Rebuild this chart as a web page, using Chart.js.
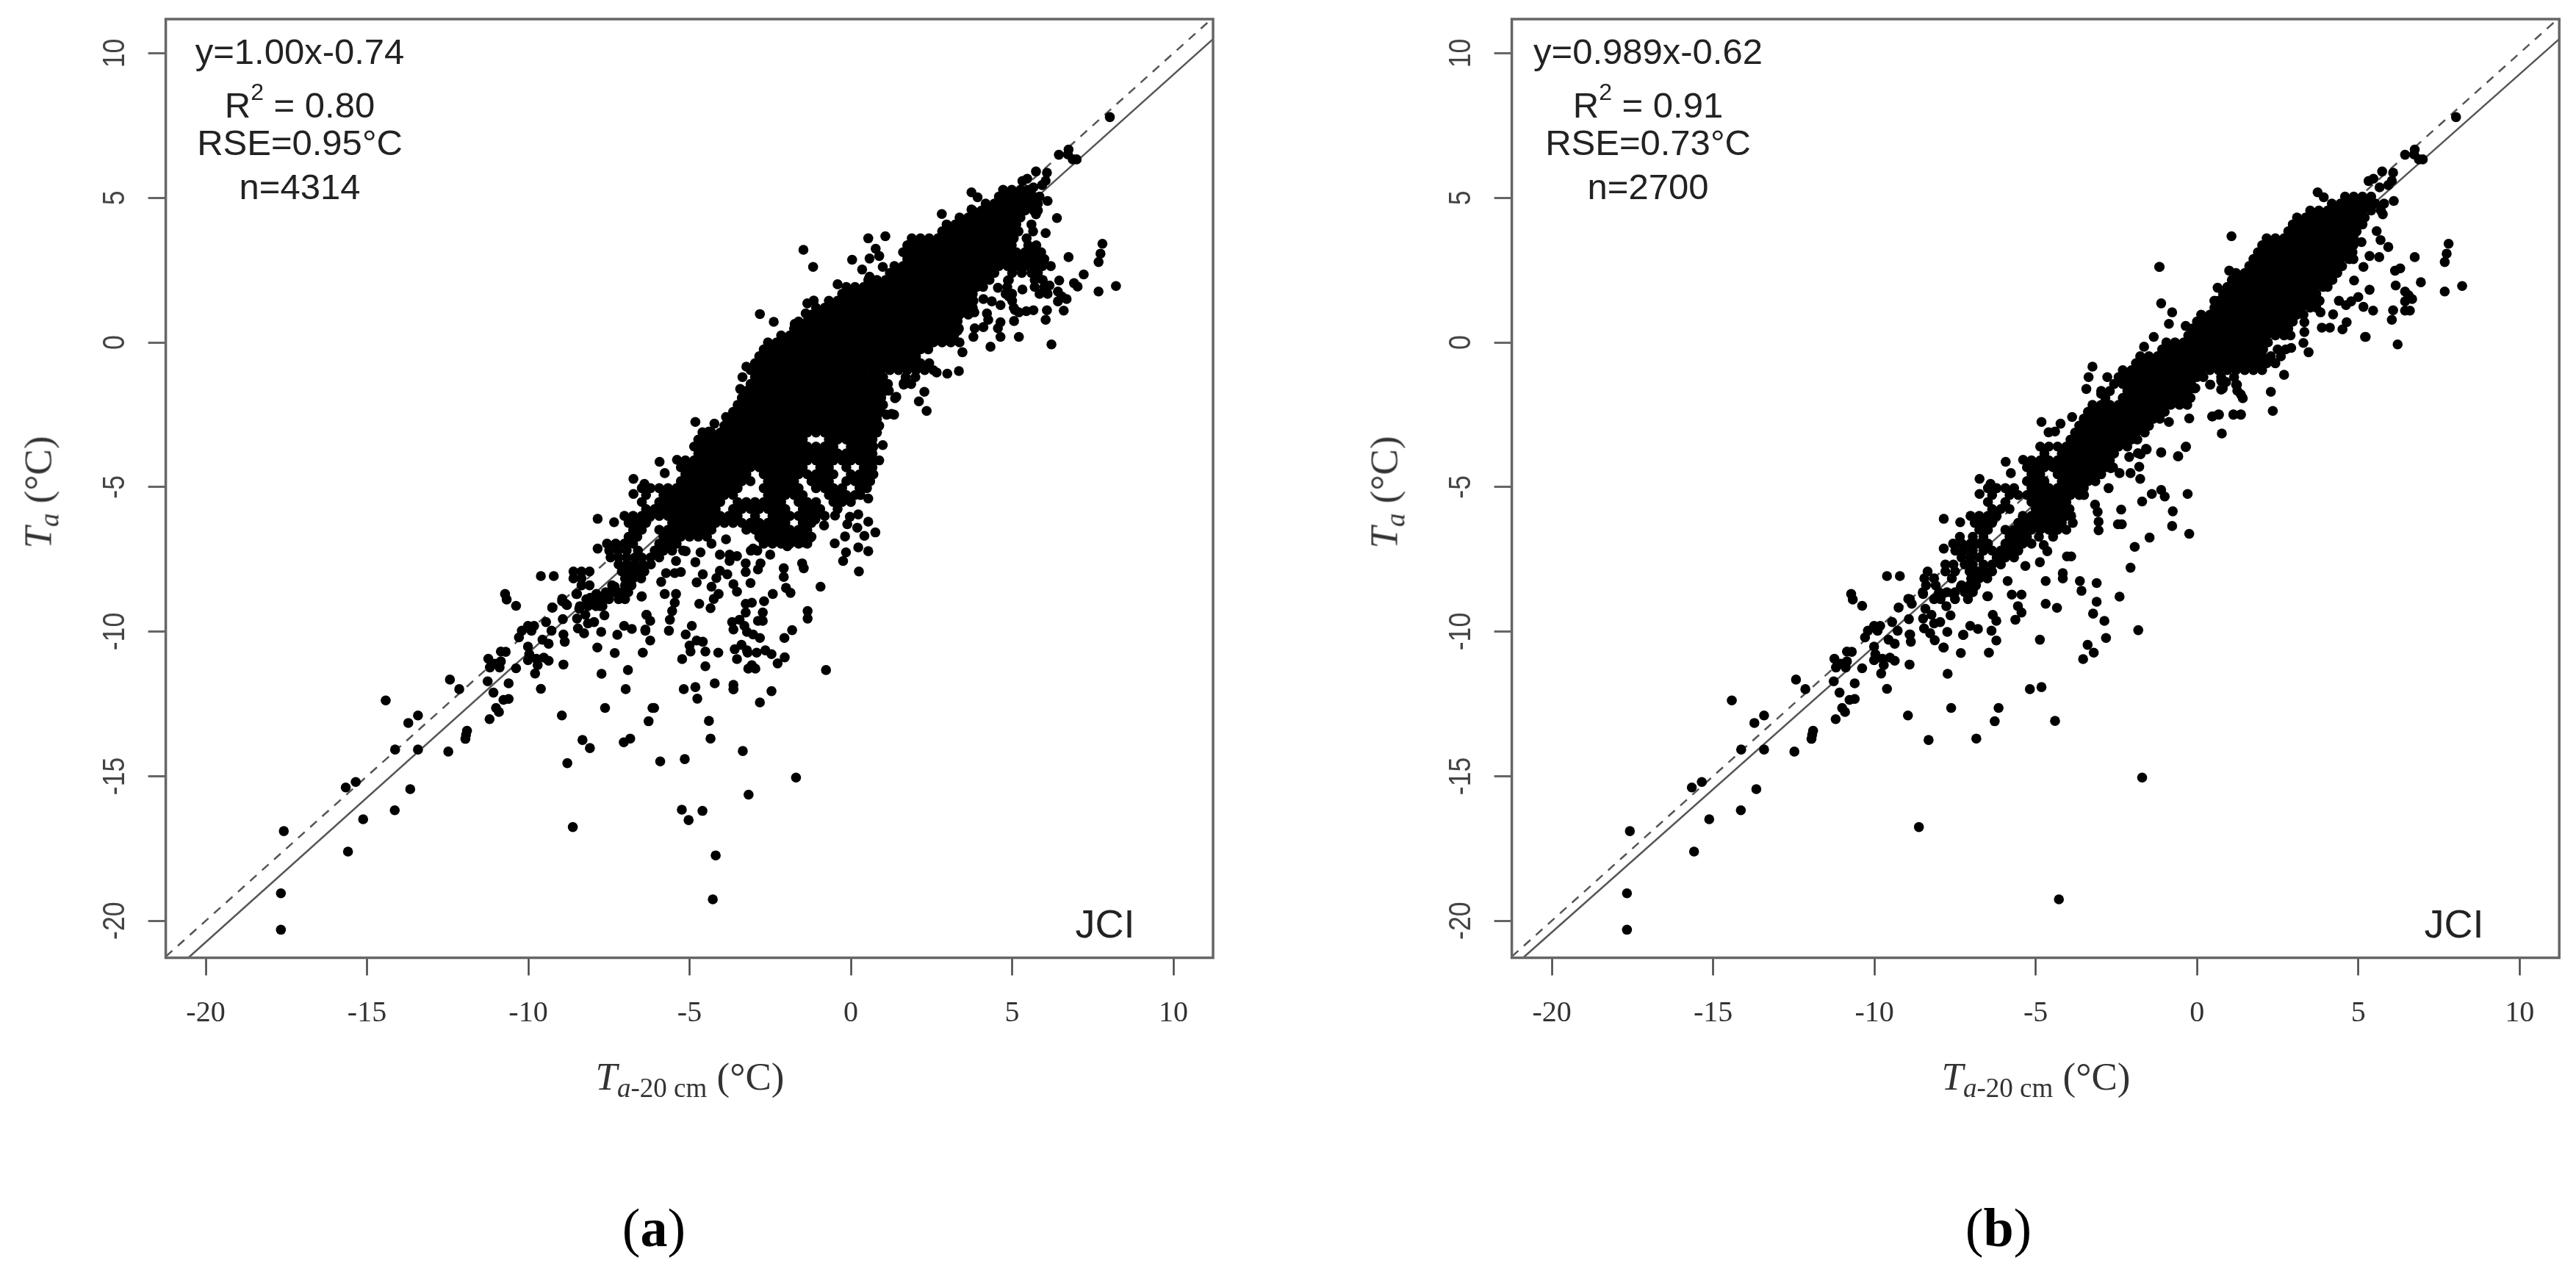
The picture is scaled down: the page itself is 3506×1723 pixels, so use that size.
<!DOCTYPE html>
<html>
<head>
<meta charset="utf-8">
<title>Ta vs Ta-20 cm</title>
<script src="https://cdn.jsdelivr.net/npm/chart.js@4/dist/chart.umd.min.js"></script>
<style>
    html, body { margin: 0; padding: 0; background: #fff; }
    body { position: relative; width: 3506px; height: 1723px; overflow: hidden; }
    canvas { position: absolute; top: 0; }
    .nota { position: absolute; transform: translateX(-50%); white-space: nowrap; font: 49px/49px "Liberation Sans", Arial, sans-serif; color: #222; }
    .nota sup { font-size: 32px; line-height: 0; vertical-align: 24px; }
    .jci { font-size: 54px; line-height: 54px; }
    .titulo { position: absolute; white-space: nowrap; font: 53px/53px "Liberation Serif", serif; color: #333; }
    .titulo sub { font-size: 37px; line-height: 0; vertical-align: -10px; }
    .painel { position: absolute; transform: translateX(-50%); font: 74px/74px "Liberation Serif", serif; color: #000; }
</style>
</head>
<body>
<canvas id="chartA" width="1790" height="1500" style="left:0"></canvas>
<canvas id="chartB" width="1674" height="1500" style="left:1832.4px"></canvas>

<div class="nota" style="left:408px;top:46px">y=1.00x-0.74</div>
<div class="nota" style="left:408px;top:119px">R<sup>2</sup> = 0.80</div>
<div class="nota" style="left:408px;top:170px">RSE=0.95°C</div>
<div class="nota" style="left:408px;top:230px">n=4314</div>
<div class="nota jci" style="left:1504px;top:1230px">JCI</div>
<div class="nota" style="left:2243px;top:46px">y=0.989x-0.62</div>
<div class="nota" style="left:2243px;top:119px">R<sup>2</sup> = 0.91</div>
<div class="nota" style="left:2243px;top:170px">RSE=0.73°C</div>
<div class="nota" style="left:2243px;top:230px">n=2700</div>
<div class="nota jci" style="left:3340px;top:1230px">JCI</div>

<div class="titulo" style="left:939px;top:1439px;transform:translateX(-50%)"><i>T</i><sub><i>a</i>-20 cm</sub> (°C)</div>
<div class="titulo" style="left:2771px;top:1439px;transform:translateX(-50%)"><i>T</i><sub><i>a</i>-20 cm</sub> (°C)</div>
<div class="titulo" style="left:52px;top:670px;transform:translate(-50%,-50%) rotate(-90deg)"><i>T</i><sub><i>a</i></sub> (°C)</div>
<div class="titulo" style="left:1884px;top:670px;transform:translate(-50%,-50%) rotate(-90deg)"><i>T</i><sub><i>a</i></sub> (°C)</div>

<div class="painel" style="left:890px;top:1634px">(<b>a</b>)</div>
<div class="painel" style="left:2720px;top:1634px">(<b>b</b>)</div>

<script>
const tickValues = [-20, -15, -10, -5, 0, 5, 10];
const xRange = [-21.24, 11.23];
const yRange = [-21.28, 11.18];

const lineOneToOne = [[-21.24, -21.24], [11.18, 11.18]];
const lineFitA = [[-20.54, -21.28], [11.23, 10.49]];
const lineFitB = [[-20.89, -21.28], [11.23, 10.49]];

// pontos isolados que aparecem nos dois paineis
const pointsBoth = [
    [-17.67,-20.31],[-17.67,-19.05],[-17.58,-16.9],[-15.59,-17.61],[-15.12,-16.49],[-15.66,-15.39],[-15.35,-15.2],
    [-14.14,-16.18],[-13.66,-15.45],[-14.42,-12.38],[-14.13,-14.08],[-13.42,-14.08],[-13.72,-13.16],[-13.42,-12.9],
    [-12.48,-14.15],[-11.9,-13.43],[-11.93,-13.57],[-11.95,-13.71],[-12.43,-11.66],[-12.14,-11.99],[-11.2,-13.03],
    [-11.26,-11.72],[-11.08,-12.11],[-10.61,-11.79],[-10.61,-12.33],[-10.77,-12.36],[-11,-12.64],[-10.91,-12.78],
    [-11.24,-10.94],[-10.85,-10.69],[-10.7,-10.7],[-11.19,-11.24],[-10.89,-11.24],[-10.85,-11.03],[-11.04,-11.11],
    [-10.38,-11.27],[-9.61,-11.98],[-9.79,-11.45],[-10.01,-10.52],[-9.97,-10.78],[-10.01,-10.99],[-9.75,-10.94],
    [-9.52,-10.9],[-9.37,-11.01],[-9.71,-11.16],[-8.91,-11.14],[-8.96,-12.9],[-8.62,-16.76],[-8.32,-13.75],
    [-7.73,-11.46],[-7.62,-12.64],[-6.84,-13.7],[-6.27,-13.1],[-6.15,-12.64],[-4.4,-13.09],[-5.18,-11.99],[-4.82,-11.92],
    [-3.53,-10.95],[-3.2,-10.73],[-3.39,-10.46],[-2.82,-10.22],[-1.82,-9.95],[-1.7,-15.05],[-4.28,-19.26],
    [-10.29,-10.2],[-10.2,-9.97],[-10.01,-9.8],[-9.82,-9.8],[-9.9,-9.97],[-9.56,-10.28],[-9.37,-10.42],[-9.45,-9.67],
    [-9.28,-9.97],[-9.25,-9.17],[-8.93,-9.57],[-8.91,-10.1],[-8.87,-10.35],[-8.95,-8.87],[-8.84,-9.04],[-8.49,-8.7],
    [-8.42,-9.21],[-8.49,-9.55],[-8.23,-9.42],[-8.46,-9.89],[-8.27,-10.06],[-7.96,-9.67],[-8.15,-9.72],[-7.77,-9.12],
    [-7.64,-9.44],[-8.08,-8.83],[-7.89,-8.7],[-7.55,-8.7],[-7.32,-8.45],[-7.09,-8.7],[-6.94,-8.53],[-6.48,-8.78],
    [-7.74,-10.01],[-7.24,-10.11],[-7.03,-9.8],[-6.79,-9.91],[-7.86,-10.55],[-7.32,-10.74],[-6.33,-9.42],[-6.22,-9.63],
    [-6.37,-9.97],[-6.22,-10.31],[-6.45,-10.73],[-10.72,-8.7],[-10.67,-8.89],[-10.38,-9.11],[-9.61,-8.08],[-9.21,-8.08],
    [-3.24,-0.84],[-3.36,-1.2],[-3.43,-1.61],[-3.87,-2.58],[-4.23,-2.81],[-4.82,-2.75],[-4.6,-3.11],[-4.4,-3.08],
    [-5.39,-4.06],[-5.93,-4.13],[-5.77,-4.52],[-6.74,-4.72],[-6.74,-5.24],[-6.4,-4.89],[-7.85,-6.1],[-7.34,-6.22],[-7.85,-7.13],
    [8.03,7.79],[6.75,6.67],[6.45,6.49],[6.88,6.33],[6.73,6.5],[7.0,6.33],[7.8,3.41],[7.74,3.07],[7.68,2.78],[6.75,2.95],
    [8.22,1.95],[6.1,4.89],[6.22,-0.07],[1.07,3.67],[-1.17,2.61],[3.74,5.19],[3.93,5.02],[5.74,5.91],[6.08,5.87],
    [5.47,5.66],[6.04,5.59],[5.93,5.44],[5.66,5.36],[5.32,5.58],[5.21,0.19],[6.6,1.1],[6.08,1.11],[6.04,0.78],[7.68,1.76]
];

// ---- painel a ----
const pointsOnlyA = [
    [-3.17,-15.64],[-3.35,-14.13],[-4.35,-13.7],[-5.15,-14.41],[-5.24,-16.16],[-5.03,-16.52],[-4.6,-16.2],[-4.19,-17.74],[-0.77,-11.33],
    [-8.79,-14.55],[-8.09,-14.03],[-6.91,-11.33],[-6.98,-11.99],[-6.1,-12.64],[-7.04,-13.83],[-5.91,-14.49],[-4.22,-11.79],
    [-3.64,-11.84],[-3.64,-12],[-4.76,-12.32],[-4.51,-11.2],[-3.07,-11.16],[-3.18,-11.28],[-2.96,-11.28],[-5.23,-10.95],
    [-4.11,-10.73],[-4.51,-10.69],[-4.97,-10.69],[-3.6,-10.61],[-3.22,-10.65],[-2.92,-10.73],[-2.65,-10.65],[-2.46,-10.78],
    [-2.27,-11.1],[-2.05,-10.89],[-4.78,-10.31],[-4.59,-10.35],[-5.12,-10.1],[-4.93,-9.8],[-5,-10.48],[-2.06,-10.22],
    [-2.46,-12.06],[-2.82,-12.45],[-3.03,-10.1],[-3.22,-10.01],[-3.3,-9.8],[-3.68,-9.67],[-3.64,-9.93],[-3.45,-9.59],
    [-3.26,-9.34],[-3.26,-9.04],[-3.07,-9],[-2.69,-8.95],[-2.73,-9.34],[-2.73,-9.63],[-2.88,-9.63],[-1.34,-9.29],[-1.34,-9.55],
    [-2.42,-8.7],[-2.01,-8.49],[-1.87,-8.66],[-0.94,-8.45],[0.25,-7.92],[-2.08,-7.81],[-2.08,-8.11],[-1.51,-7.64],[-1.46,-7.81],
    [-2.5,-7.34],[-2.8,-7.64],[-2.88,-7.85],[-3.26,-7.64],[-3.26,-7.94],[-3.11,-8.32],[-3.53,-8.62],[-3.64,-8.36],[-3.83,-8.02],
    [-4.06,-7.9],[-4.17,-8.15],[-4.32,-8.45],[-4.1,-8.7],[-4.25,-8.87],[-4.35,-9.19],[-4.7,-9.04],[-4.59,-8.02],[-4.78,-8.3],
    [-5.88,-8.28],[-5.73,-7.98],[-5.42,-7.56],[-5.27,-7.94],[-5.46,-7.98],[-6.49,-8.79],[-5.77,-8.7],[-5.42,-8.7],[-5.46,-9],
    [-5.54,-9.29],[-5.61,-9.59],[-5.64,-9.97],[-6.34,-9.42],[-6.37,-9.93],[-3.87,-6.81],[-4.06,-7.34],[-3.76,-7.34],[-3.53,-7.39],
    [-3.76,-7.56],[-4.66,-7.26],[-4.82,-7.6],[-5.12,-7.22],[0.54,-5.4],[0.54,-6.2],[0.76,-6.57],[0.42,-6.69],[0.2,-6.41],[0.23,-5.95],
    [-0.03,-6.03],[-0.11,-6.29],[-0.18,-6.71],[-0.5,-6.95],[0.23,-7.09],[0.54,-7.22],[-0.15,-7.26],[-0.24,-7.56],[0.99,-3.55],[0.88,-4.08],
    [-0.49,-5.99],[-0.83,-6.33],[-1.1,-6.12],[-1.36,-6.2],[-1.25,-6.75],[-1.44,-6.92],[-1.7,-6.79],[-1.97,-7.05],[-2.31,-6.62],
    [-2.5,-6.88],[-2.77,-6.79],[-3.03,-7.13],[1.26,-2.47],[1.41,-1.88],[1.64,-1.41],[-8.51,-8.7],[-8.95,-8.95],[-8.8,-9.08],[-9.26,-9.17],
    [0.54,3.6],[0.77,3.24],[0.58,2.9],[0.88,2.99],[0.04,2.86],[-1.47,3.2],[0.35,2.52],[0.99,2.61],[0.58,2.27],[-0.41,2.01],
    [-1.15,1.45],[-1.35,1.35],[-2.82,0.98],[-2.39,0.71],[-1.74,0.64],[-1.4,1.0],
    [2.82,4.44],[3.74,4.6],[6.39,4.3],[5.74,4.43],[6.04,3.78],[7.22,2.35],[6.92,2.05],[7.03,1.93],[6.46,2.14],[6.16,1.97],[6.42,1.76],
    [6.54,1.59],[6.69,1.5],[6.42,1.42],[4.56,1.89],[5.32,1.83],[5.66,1.11],[5.44,1.08],[5.21,1.04],[5.06,0.74],[4.64,0.19],[4.56,0.49],
    [4.64,0.7],[4.33,-0.15],[3.8,0.19],[3.84,0.49],[4.11,0.53],[4.26,0.78],[4.22,1],[3.83,1.04],[4.11,1.5],[4.37,1.42],[4.64,1.29],
    [4.9,1.59],[4.87,2.14],[5.09,1.12],[3.31,0.74],[3.31,0.4],[3.46,-0.34],[3.35,-0.99],[2.99,-1.08],[2.66,-1.04],[2.28,-1.71],
    [2.11,-2.04],[2.35,-2.37],[1.87,-1.44],[1.64,-1.46],[1.37,-1.93],[1.18,-1.67],[1.11,-2.5],[1.34,-2.5]
];
// miolo denso do painel a: cada linha e [y, x, x, ...]; pontos ali se sobrepoem, valores estimados pela mancha
const coreRowsA = [
    [5.28,4.72,4.99,5.26,5.5],
    [5.04,4.59,4.86,5.13,5.4,5.67,5.85],
    [4.8,4.18,4.45,4.72,4.99,5.26,5.53,5.8],
    [4.56,3.78,4.05,4.32,4.59,4.86,5.13,5.4,5.67,5.8],
    [4.32,3.37,3.64,3.91,4.18,4.45,4.72,4.99,5.26],
    [4.08,2.97,3.24,3.51,3.78,4.05,4.32,4.59,4.86,5.13,5.6],
    [3.84,2.83,3.1,3.37,3.64,3.91,4.18,4.45,4.72,4.99,5.2,5.65],
    [3.6,1.89,2.16,2.43,2.7,2.97,3.24,3.51,3.78,4.05,4.32,4.59,4.86,5.05,5.45],
    [3.36,1.75,2.02,2.29,2.56,2.83,3.1,3.37,3.64,3.91,4.18,4.45,4.72,4.99,5.5,5.75],
    [3.12,1.62,1.89,2.16,2.43,2.7,2.97,3.24,3.51,3.78,4.05,4.32,4.59,4.86,5.13,5.4,5.67,5.9],
    [2.88,1.75,2.02,2.29,2.56,2.83,3.1,3.37,3.64,3.91,4.18,4.45,4.72,4.99,5.26,5.53,5.8,6],
    [2.64,1.35,1.62,1.89,2.16,2.43,2.7,2.97,3.24,3.51,3.78,4.05,4.32,4.59,4.86,5.13,5.4,5.67,5.94,6.2],
    [2.4,1.21,1.48,1.75,2.02,2.29,2.56,2.83,3.1,3.37,3.64,3.91,4.18,4.45,5,5.3,5.6,5.8],
    [2.16,0.54,0.81,1.08,1.35,1.62,1.89,2.16,2.43,2.7,2.97,3.24,3.51,3.78,4.05,4.3,4.9,5.7,5.95],
    [1.92,-0.14,0.13,0.4,0.67,0.94,1.21,1.48,1.75,2.02,2.29,2.56,2.83,3.1,3.37,3.64,3.91,4.1,4.85,5.7,6],
    [1.68,-0.27,0,0.27,0.54,0.81,1.08,1.35,1.62,1.89,2.16,2.43,2.7,2.97,3.24,3.51,3.78,4.8,5,5.85,6.1],
    [1.44,-0.68,-0.41,-0.14,0.13,0.4,0.67,0.94,1.21,1.48,1.75,2.02,2.29,2.56,2.83,3.1,3.37,3.64,3.8,5],
    [1.2,-1.08,-0.81,-0.54,-0.27,0,0.27,0.54,0.81,1.08,1.35,1.62,1.89,2.16,2.43,2.7,2.97,3.24,3.51,3.78,5.05],
    [0.96,-1.22,-0.95,-0.68,-0.41,-0.14,0.13,0.4,0.67,0.94,1.21,1.48,1.75,2.02,2.29,2.56,2.83,3.1,3.37,3.64],
    [0.72,-1.62,-1.35,-1.08,-0.81,-0.54,-0.27,0,0.27,0.54,0.81,1.08,1.35,1.62,1.89,2.16,2.43,2.7,2.97,3.2],
    [0.48,-1.76,-1.49,-1.22,-0.95,-0.68,-0.41,-0.14,0.13,0.4,0.67,0.94,1.21,1.48,1.75,2.02,2.29,2.56,2.83,3.1,3.35],
    [0.24,-2.16,-1.89,-1.62,-1.35,-1.08,-0.81,-0.54,-0.27,0,0.27,0.54,0.81,1.08,1.35,1.62,1.89,2.16,2.43,2.7,2.97,3.2],
    [0,-2.57,-2.3,-2.03,-1.76,-1.49,-1.22,-0.95,-0.68,-0.41,-0.14,0.13,0.4,0.67,0.94,1.21,1.48,1.75,2.02,2.29,2.56,2.83,3.1,3.37],
    [-0.24,-2.7,-2.43,-2.16,-1.89,-1.62,-1.35,-1.08,-0.81,-0.54,-0.27,0,0.27,0.54,0.81,1.08,1.35,1.62,1.89,2.16,2.4],
    [-0.48,-2.84,-2.57,-2.3,-2.03,-1.76,-1.49,-1.22,-0.95,-0.68,-0.41,-0.14,0.13,0.4,0.67,0.94,1.21,1.48,1.75,2.02],
    [-0.72,-2.97,-2.7,-2.43,-2.16,-1.89,-1.62,-1.35,-1.08,-0.81,-0.54,-0.27,0,0.27,0.54,0.81,1.08,1.35,1.62,1.89,2.16,2.43],
    [-0.96,-3.11,-2.84,-2.57,-2.3,-2.03,-1.76,-1.49,-1.22,-0.95,-0.68,-0.41,-0.14,0.13,0.4,0.67,0.94,1.21,1.48,1.75,2.02,2.29,2.56],
    [-1.2,-2.97,-2.7,-2.43,-2.16,-1.89,-1.62,-1.35,-1.08,-0.81,-0.54,-0.27,0,0.27,0.54,0.81,1,1.7,2],
    [-1.44,-3.11,-2.84,-2.57,-2.3,-2.03,-1.76,-1.49,-1.22,-0.95,-0.68,-0.41,-0.14,0.13,0.4,0.67,0.94,1.15],
    [-1.68,-3.24,-2.97,-2.7,-2.43,-2.16,-1.89,-1.62,-1.35,-1.08,-0.81,-0.54,-0.27,0,0.27,0.54,0.81,1.05],
    [-1.92,-3.38,-3.11,-2.84,-2.57,-2.3,-2.03,-1.76,-1.49,-1.22,-0.95,-0.68,-0.41,-0.14,0.13,0.4,0.67,0.94],
    [-2.16,-3.51,-3.24,-2.97,-2.7,-2.43,-2.16,-1.89,-1.62,-1.35,-1.08,-0.81,-0.54,-0.27,0,0.27,0.54,0.81,1],
    [-2.4,-3.65,-3.38,-3.11,-2.84,-2.57,-2.3,-2.03,-1.76,-1.49,-1.22,-0.95,-0.68,-0.41,-0.14,0.13,0.4,0.67,0.94],
    [-2.64,-3.78,-3.51,-3.24,-2.97,-2.7,-2.43,-2.16,-1.89,-1.62,-1.35,-1.08,-0.81,-0.54,-0.27,0,0.27,0.54,0.81],
    [-2.88,-3.92,-3.65,-3.38,-3.11,-2.84,-2.57,-2.3,-2.03,-1.76,-1.49,-1.22,-0.95,-0.68,-0.41,-0.14,0.13,0.4,0.67,0.88],
    [-3.12,-4.32,-4.05,-3.78,-3.51,-3.24,-2.97,-2.7,-2.43,-2.16,-1.89,-1.62,-1.35,-1.08,-0.81,-0.54,-0.27,0,0.27,0.54,0.81],
    [-3.36,-4.73,-4.46,-4.19,-3.92,-3.65,-3.38,-3.11,-2.84,-2.57,-2.3,-2.03,-1.76,-1.49,-0.68,-0.41,-0.14,0.13,0.4,0.67],
    [-3.6,-4.86,-4.59,-4.32,-4.05,-3.78,-3.51,-3.24,-2.97,-2.7,-2.43,-2.16,-1.89,-1.62,-1.35,-1.08,-0.81,-0.54,0,0.27,0.54,0.7],
    [-3.84,-4.73,-4.46,-4.19,-3.92,-3.65,-3.38,-3.11,-2.84,-2.57,-2.3,-2.03,-1.76,-1.49,-1.22,-0.95,-0.68,-0.41,-0.14,0.13,0.4,0.67],
    [-4.08,-5.13,-4.86,-4.59,-4.32,-4.05,-3.78,-3.51,-3.24,-2.97,-2.7,-2.43,-2.16,-1.89,-1.62,-1.35,-1.08,-0.81,-0.54,-0.27,0,0.27,0.54,0.7],
    [-4.32,-5.27,-5,-4.73,-4.46,-4.19,-3.92,-3.65,-3.38,-3.11,-2.84,-2.57,-2.3,-2.03,-1.76,-1.49,-0.95,-0.68,-0.14,0.4,0.67],
    [-4.56,-5.13,-4.86,-4.59,-4.32,-4.05,-3.78,-3.51,-3.24,-2.7,-2.43,-2.16,-1.89,-1.62,-1.35,-1.08,-0.81,-0.54,0,0.27,0.54,0.7],
    [-4.8,-5.27,-5,-4.73,-4.46,-4.19,-3.92,-3.65,-3.38,-3.11,-2.57,-2.3,-2.03,-1.76,-1.22,-0.95,-0.68,-0.14,0.13,0.4,0.6],
    [-5.04,-6.48,-6.21,-5.94,-5.67,-5.4,-5.13,-4.86,-4.59,-4.32,-4.05,-3.78,-3.51,-2.7,-2.43,-2.16,-1.89,-1.62,-1.08,-0.81,-0.54,-0.27,0.27,0.5],
    [-5.28,-6.35,-5.81,-5.54,-5.27,-5,-4.73,-4.46,-4.19,-3.92,-3.65,-2.57,-2.3,-2.03,-1.76,-1.49,-0.68,-0.41,-0.14,0.13,0.3],
    [-5.52,-6.48,-5.94,-5.67,-5.4,-5.13,-4.86,-4.59,-4.32,-4.05,-3.51,-3.24,-2.97,-2.7,-2.43,-2.16,-1.62,-1.35,-1.08,-0.54,-0.27,0],
    [-5.76,-6.35,-6.08,-5.81,-5.54,-5.27,-5,-4.73,-4.46,-4.19,-3.65,-3.38,-3.11,-2.84,-2.57,-2.3,-2.03,-1.49,-1.22,-0.95,-0.41],
    [-6,-7.02,-6.75,-6.48,-6.21,-5.94,-5.67,-5.4,-5.13,-4.86,-4.59,-4.32,-4.05,-3.78,-3.51,-2.97,-2.43,-2.16,-1.89,-1.62,-1.35,-1.08,-0.81],
    [-6.24,-6.89,-6.62,-6.35,-5.54,-5.27,-5,-4.73,-4.46,-4.19,-3.92,-3.65,-3.38,-3.11,-2.84,-2.57,-2.3,-2.03,-1.49,-1.22],
    [-6.48,-6.75,-6.48,-5.94,-5.67,-5.4,-5.13,-4.86,-4.59,-4.32,-3.24,-2.97,-2.7,-2.43,-2.16,-1.89,-1.62,-1.35],
    [-6.72,-6.89,-6.62,-5.81,-5.54,-5.27,-5,-4.73,-4.46,-2.84,-2.57,-2.3,-2.03,-1.76,-1.49,-1.22],
    [-6.96,-7.56,-7.29,-7.02,-6.75,-5.94,-5.67,-5.4,-4.32,-2.7,-2.43,-2.16,-1.89,-1.62,-1.35],
    [-7.2,-7.49,-7.22,-6.95,-6.6,-6.08,-5.81,-5.54,-5.2,-3.1,-2.9],
    [-7.44,-7.45,-7.2,-6.95,-6.7,-6.48,-6.21,-5.94],
    [-7.68,-7.2,-6.95,-6.7,-6.45,-6.2],
    [-7.92,-8.6,-8.35,-8.1,-7.1,-6.85,-6.6,-6.4],
    [-8.16,-8.6,-8.35,-7,-6.75,-6.5],
    [-8.4,-8.35,-8.1,-7.4,-7,-6.8],
    [-8.64,-7.6,-7.35,-7.1,-6.9],
    [-8.88,-8.2,-8,-7.75,-7.5,-7.2,-7],
    [-9.12,-8.4,-8.15,-7.9,-7.7]
];

// ---- painel b ----
const pointsOnlyB = [
    [-4.87,-10.28],[-7.85,-10.55],[-7.25,-10.12],[-5.63,-9.59],[-5.44,-9.34],[-5.55,-9.12],[-5.74,-8.72],[-5.44,-8.72],[-6.5,-8.78],
    [-4.69,-9.04],[-4.34,-9.18],[-3.22,-9.38],[-2.87,-9.63],[-3.11,-8.97],[-2.4,-8.79],[-3.58,-8.59],[-3.63,-8.25],[-3.11,-8.32],
    [-4.16,-7.98],[-4.16,-8.16],[-4.69,-8.25],[-5.87,-8.25],[-5.32,-7.73],[-3.9,-7.4],[-4.03,-7.4],[-4.87,-7.6],[-4.64,-7.22],[-4.75,-7.01],
    [-2.06,-7.79],[-1.93,-7.07],[-1.47,-6.75],[-0.24,-6.62],[-0.77,-6.35],[-0.75,-5.84],[-0.29,-5.24],[-1,-5.33],[-1.11,-5.1],[-1.4,-5.24],
    [-1.7,-5.5],[-2.35,-5.78],[-2.33,-6.29],[-2.45,-6.29],[-3.16,-5.61],[-3.08,-5.86],[-3.05,-6.2],[-3.05,-6.5],[-2.74,-5.04],[-1.76,-4.72],
    [-1.79,-4.3],[-2.06,-4.52],[-2.4,-4.52],[-2.67,-4.35],[-0.58,-3.94],[-0.34,-3.6],[-1.11,-3.8],[-1.58,-3.68],[-1.83,-3.83],[-2.1,-3.96],
    [0.77,-3.15],[0.48,-2.56],[0.67,-2.49],[1.13,-2.49],[1.36,-2.49],[-0.24,-2.63],[-0.87,-2.75],[-0.05,-1.58],[0.41,-1.46],[0.75,-1.63],
    [0.9,-1.37],[1.24,-1.46],[1.36,-1.8],[-2.78,-1.2],[-2.97,-1.78],[-8.89,-10.1],[-8.13,-10.3],
    [-1.16,2.61],[1,2.48],[0.64,1.89],[0.54,1.44],[-1.11,1.35],[-0.77,1.04],[-0.87,0.64],[-0.35,0.57],[-1.34,0.19],[-1.64,-0.15],
    [5.76,4.43],[5.57,3.85],[5.1,3.47],[5.69,3.54],[5.93,3.3],[5.35,2.99],[5.65,2.95],[5.16,2.61],[6.3,2.56],[6.14,2.48],[6.94,2.08],
    [6.16,1.97],[6.45,1.76],[6.67,1.5],[6.45,1.42],[6.56,1.63],[4.87,2.14],[5.35,1.82],[5,1.57],[4.78,1.42],[4.62,1.29],[4.4,1.44],
    [5.16,1.23],[5.46,1.1],[5.23,0.19],[4.22,0.97],[3.83,1.04],[4.64,0.7],[4.51,0.45],[3.87,0.51],[4.12,0.51],[3.33,0.7],[3.33,0.36],
    [3.3,-0.02],[3.46,-0.34],[2.92,-0.19],[2.7,-1.12],[2.29,-1.71],[2.35,-2.37],[1.42,-1.93],[1.25,-1.67],[1.21,-1.46],[0.8,-1.59],
    [0.41,-1.46],[-0.07,-1.59],[0.75,-1.33],[1.36,-2.5],[1.13,-2.5],[0.68,-2.5],[0.47,-2.56],
    [-0.35,-3.62],[-1.11,-3.81],[-0.59,-3.94],[-1.56,-3.7],[-1.75,-3.87],[6.45,1.1]
];
// miolo denso do painel b: cada linha e [y, x, x, ...]; pontos ali se sobrepoem, valores estimados pela mancha
const coreRowsB = [
    [5.04,4.59,4.86,5.13,5.4],
    [4.8,4.18,4.45,4.72,4.99,5.26,5.53,5.8],
    [4.56,3.51,3.78,4.05,4.32,4.59,4.86,5.13,5.4,5.7],
    [4.32,3.1,3.37,3.64,3.91,4.18,4.45,4.72,4.99,5.2],
    [4.08,2.97,3.24,3.51,3.78,4.05,4.32,4.59,4.86,5.13],
    [3.84,2.83,3.1,3.37,3.64,3.91,4.18,4.45,4.72,4.95],
    [3.6,2.16,2.43,2.7,2.97,3.24,3.51,3.78,4.05,4.32,4.59,4.86],
    [3.36,2.02,2.29,2.56,2.83,3.1,3.37,3.64,3.91,4.18,4.45,4.72,4.85],
    [3.12,1.89,2.16,2.43,2.7,2.97,3.24,3.51,3.78,4.05,4.32,4.59,4.82],
    [2.88,1.75,2.02,2.29,2.56,2.83,3.1,3.37,3.64,3.91,4.18,4.45,4.72,4.85],
    [2.64,1.62,1.89,2.16,2.43,2.7,2.97,3.24,3.51,3.78,4.05,4.32,4.5],
    [2.4,1.21,1.48,1.75,2.02,2.29,2.56,2.83,3.1,3.37,3.64,3.91,4.18,4.35],
    [2.16,1.08,1.35,1.62,1.89,2.16,2.43,2.7,2.97,3.24,3.51,3.78,4.05,4.2],
    [1.92,0.94,1.21,1.48,1.75,2.02,2.29,2.56,2.83,3.1,3.37,3.64,3.91,4.05],
    [1.68,0.81,1.08,1.35,1.62,1.89,2.16,2.43,2.7,2.97,3.24,3.51,3.7],
    [1.44,0.67,0.94,1.21,1.48,1.75,2.02,2.29,2.56,2.83,3.1,3.37,3.64,3.8],
    [1.2,0.54,0.81,1.08,1.35,1.62,1.89,2.16,2.43,2.7,2.97,3.24,3.51,3.7],
    [0.96,0.13,0.4,0.67,0.94,1.21,1.48,1.75,2.02,2.29,2.56,2.83,3.1,3.3],
    [0.72,0,0.27,0.54,0.81,1.08,1.35,1.62,1.89,2.16,2.43,2.7,2.97],
    [0.48,-0.14,0.13,0.4,0.67,0.94,1.21,1.48,1.75,2.02,2.29,2.56,2.83],
    [0.24,-0.27,0,0.27,0.54,0.81,1.08,1.35,1.62,1.89,2.16,2.43,2.7,2.9],
    [0,-0.95,-0.68,-0.41,-0.14,0.13,0.4,0.67,0.94,1.21,1.48,1.75,2.02,2.2],
    [-0.24,-1.08,-0.81,-0.54,-0.27,0,0.27,0.54,0.81,1.08,1.35,1.62,1.89,2.05,2.5,2.75],
    [-0.48,-1.76,-1.49,-1.22,-0.95,-0.68,-0.41,-0.14,0.13,0.4,0.67,0.94,1.21,1.48,1.75,2.02,2.29,2.6],
    [-0.72,-1.89,-1.62,-1.35,-1.08,-0.81,-0.54,-0.27,0,0.27,0.54,0.81,1.08,1.35,1.62,1.89,2.16,2.43],
    [-0.96,-2.3,-2.03,-1.76,-1.49,-1.22,-0.95,-0.68,-0.41,-0.14,0.13,0.4,0.67,0.94,1.21,1.48,1.75,2.02],
    [-1.2,-2.43,-2.16,-1.89,-1.62,-1.35,-1.08,-0.81,-0.54,-0.27,0,0.2,0.75,1.15],
    [-1.44,-2.57,-2.3,-2.03,-1.76,-1.49,-1.22,-0.95,-0.68,-0.41,-0.18],
    [-1.68,-2.97,-2.7,-2.16,-1.89,-1.62,-1.35,-1.08,-0.81,-0.54,-0.27],
    [-1.92,-2.84,-2.3,-2.03,-1.76,-1.49,-1.22,-0.95,-0.68,-0.41,-0.2],
    [-2.16,-3.24,-2.97,-2.7,-2.43,-2.16,-1.89,-1.62,-1.35,-1.08,-0.81,-0.54,-0.3],
    [-2.4,-3.38,-3.11,-2.84,-2.57,-2.3,-2.03,-1.76,-1.49,-1.22,-1],
    [-2.64,-3.51,-3.24,-2.97,-2.7,-2.43,-2.16,-1.89,-1.62,-1.35,-1.15],
    [-2.88,-3.65,-3.38,-3.11,-2.84,-2.57,-2.3,-2.03,-1.76,-1.49],
    [-3.12,-3.78,-3.51,-3.24,-2.97,-2.7,-2.43,-2.16,-1.89,-1.62],
    [-3.36,-3.92,-3.65,-3.38,-3.11,-2.84,-2.57,-2.3,-2.03,-1.85],
    [-3.6,-4.86,-4.59,-4.32,-4.05,-3.78,-3.51,-3.24,-2.97,-2.7,-2.43,-2.16],
    [-3.84,-4.73,-4.19,-3.92,-3.65,-3.38,-3.11,-2.84,-2.57],
    [-4.08,-5.13,-4.86,-4.59,-4.32,-4.05,-3.78,-3.51,-3.24,-2.97,-2.7],
    [-4.32,-5.27,-5,-4.73,-4.46,-4.19,-3.92,-3.65,-3.38,-3.11,-2.84,-2.6],
    [-4.56,-5.13,-4.86,-4.32,-4.05,-3.78,-3.51,-3.24,-2.97],
    [-4.8,-5.27,-5,-4.73,-4.19,-3.92,-3.65,-3.38,-3.15],
    [-5.04,-6.48,-6.21,-5.94,-5.67,-5.13,-4.86,-4.59,-4.32,-4.05,-3.78,-3.51],
    [-5.28,-6.35,-5.81,-5.54,-5.27,-5,-4.73,-4.46,-4.19,-3.92,-3.65,-3.5],
    [-5.52,-6.48,-5.94,-5.13,-4.86,-4.59,-4.32,-4.05],
    [-5.76,-6.35,-6.08,-5.81,-5,-4.73,-4.46,-4.19,-3.95],
    [-6,-7.02,-6.75,-6.48,-6.21,-5.4,-5.13,-4.86,-4.59,-4.32,-4.05,-3.9],
    [-6.24,-6.89,-6.62,-6.35,-5.54,-5.27,-5,-4.73,-4.46,-4.19,-3.85],
    [-6.48,-6.75,-6.48,-5.94,-5.67,-5.4,-5.13,-4.86,-4.59,-4.32,-4.05],
    [-6.72,-7.35,-6.95,-6.62,-5.81,-5.54,-5.27,-4.9,-4.46],
    [-6.96,-7.56,-7.29,-7.02,-6.75,-6.48,-5.94,-5.67,-5.4,-5.13],
    [-7.2,-7.49,-7.22,-6.95,-6.62,-6.35,-6.08,-5.81,-5.54],
    [-7.44,-7.3,-7.02,-6.75,-6.21,-5.94,-5.67],
    [-7.68,-7.8,-7.55,-7.2,-6.95,-6.62,-6.35,-6.08],
    [-7.92,-8.35,-7.8,-7.5,-7.05,-6.8,-6.55,-6.35],
    [-8.16,-8.45,-8.15,-7.6,-7,-6.75,-6.5],
    [-8.4,-8.4,-8.1,-7.3,-7.05,-6.85],
    [-8.64,-8.5,-8,-7.75,-7.5,-7.2,-6.95],
    [-8.88,-8.9,-8.15,-7.95,-7.5,-7.1]
];

// Desenha o quadro em volta da area e os rotulos verticais do eixo y
const framePlugin = {
    id: 'frame',
    afterDraw(chart) {
        const { ctx, chartArea: a, scales } = chart;
        ctx.save();
        ctx.strokeStyle = '#666';
        ctx.lineWidth = 3.5;
        ctx.strokeRect(a.left, a.top, a.right - a.left, a.bottom - a.top);
        ctx.fillStyle = '#444';
        ctx.font = '42px "Liberation Sans", Arial, sans-serif';
        ctx.textAlign = 'center';
        ctx.textBaseline = 'alphabetic';
        tickValues.forEach(v => {
            ctx.save();
            ctx.translate(169, scales.y.getPixelForValue(v));
            ctx.rotate(-Math.PI / 2);
            ctx.scale(0.85, 1);
            ctx.fillText(String(v), 0, 0);
            ctx.restore();
        });
        ctx.restore();
    }
};

function rowsToPoints(rows) {
    return rows.flatMap(([y, ...xs]) => xs.map(x => ({ x, y })));
}

function pairsToPoints(pairs) {
    return pairs.map(([x, y]) => ({ x, y }));
}

function renderPanel(canvasId, points, fit, rightPad) {
    new Chart(document.getElementById(canvasId), {
        type: 'scatter',
        data: {
            datasets: [
                { data: pairsToPoints(lineOneToOne), type: 'line', borderColor: '#555', borderWidth: 2.5, borderDash: [12, 10], pointRadius: 0, order: 3 },
                { data: pairsToPoints(fit), type: 'line', borderColor: '#555', borderWidth: 2.5, pointRadius: 0, order: 2 },
                { data: points, backgroundColor: '#000', borderWidth: 0, pointRadius: 6.8, order: 1 }
            ]
        },
        options: {
            responsive: false,
            devicePixelRatio: 1,
            animation: false,
            layout: { padding: { top: 26, right: rightPad, bottom: 0, left: 0 } },
            plugins: { legend: { display: false }, tooltip: { enabled: false } },
            scales: {
                x: {
                    type: 'linear',
                    min: xRange[0],
                    max: xRange[1],
                    afterBuildTicks: s => { s.ticks = tickValues.map(value => ({ value })); },
                    afterFit: s => { s.height = 196.5; },
                    border: { display: false },
                    grid: { drawOnChartArea: false, tickLength: 24, tickColor: '#444', tickWidth: 2.5 },
                    ticks: { color: '#333', padding: 28, maxRotation: 0, autoSkip: false, font: { family: '"Liberation Serif", serif', size: 40 } }
                },
                y: {
                    type: 'linear',
                    min: yRange[0],
                    max: yRange[1],
                    afterBuildTicks: s => { s.ticks = tickValues.map(value => ({ value })); },
                    afterFit: s => { s.width = 225.6; },
                    border: { display: false },
                    grid: { drawOnChartArea: false, tickLength: 24, tickColor: '#666', tickWidth: 3 },
                    ticks: { display: false }
                }
            }
        },
        plugins: [framePlugin]
    });
}

const pointsA = pairsToPoints(pointsBoth).concat(pairsToPoints(pointsOnlyA), rowsToPoints(coreRowsA));
const pointsB = pairsToPoints(pointsBoth).concat(pairsToPoints(pointsOnlyB), rowsToPoints(coreRowsB));

renderPanel('chartA', pointsA, lineFitA, 139);
renderPanel('chartB', pointsB, lineFitB, 22.8);
</script>
</body>
</html>
